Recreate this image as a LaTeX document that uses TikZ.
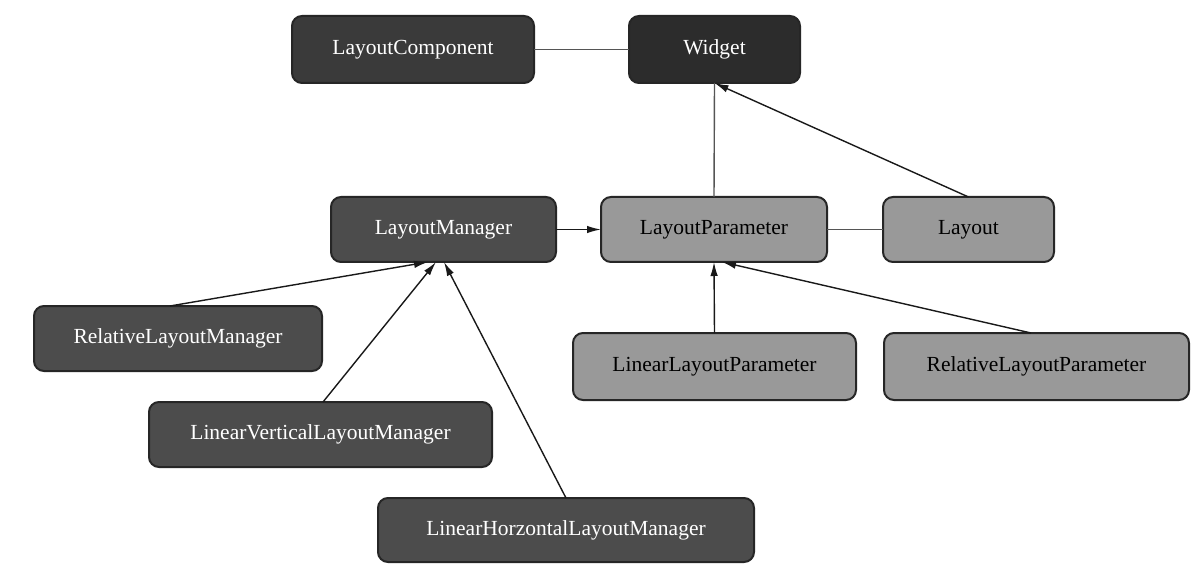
\documentclass[tikz,border=0pt]{standalone}
\usepackage{fontspec}
\setmainfont{Liberation Serif}
\usetikzlibrary{arrows.meta}
\definecolor{cdarkA}{HTML}{3A3A3A}
\definecolor{cdarkB}{HTML}{2C2C2C}
\definecolor{cmid}{HTML}{4C4C4C}
\definecolor{clight}{HTML}{999999}
\definecolor{cedge}{HTML}{262626}
\definecolor{cassoc}{HTML}{555555}
\tikzset{
  box/.style={draw=cedge, line width=2pt, rounded corners=10pt, inner sep=0pt, outer sep=0pt,
    font=\fontsize{21.5}{26}\selectfont, align=center},
  darkbox/.style={box, fill=cmid, text=white},
  darkerbox/.style={box, fill=cdarkA, text=white},
  darkestbox/.style={box, fill=cdarkB, text=white},
  lightbox/.style={box, fill=clight, text=black},
  assoc/.style={draw=cassoc, line width=1.4pt},
  inherit/.style={draw=black!90, line width=1.4pt, -{Latex[length=14pt,width=7.5pt]}},
}
\begin{document}
\begin{tikzpicture}[x=1pt,y=-1pt]
\useasboundingbox (0,0) rectangle (1200,572);
\fill[white] (0,0) rectangle (1200,572);

\node[darkerbox, minimum width=242pt, minimum height=67pt] (lc) at (413,49.5) {LayoutComponent};
\node[darkestbox, minimum width=171pt, minimum height=67pt] (w) at (714.5,49.5) {Widget};
\node[darkbox, minimum width=225pt, minimum height=65pt] (lm) at (443.5,229.5) {LayoutManager};
\node[lightbox, minimum width=226pt, minimum height=65pt] (lp) at (714,229.5) {LayoutParameter};
\node[lightbox, minimum width=171pt, minimum height=65pt] (l) at (968.5,229.5) {Layout};
\node[darkbox, minimum width=288pt, minimum height=65pt] (rlm) at (178,338.5) {RelativeLayoutManager};
\node[darkbox, minimum width=343pt, minimum height=65pt] (lvlm) at (320.5,434.5) {LinearVerticalLayoutManager};
\node[darkbox, minimum width=376pt, minimum height=64pt] (lhlm) at (566,530) {LinearHorzontalLayoutManager};
\node[lightbox, minimum width=283pt, minimum height=67pt] (llp) at (714.5,366.5) {LinearLayoutParameter};
\node[lightbox, minimum width=305pt, minimum height=67pt] (rlp) at (1036.5,366.5) {RelativeLayoutParameter};

% associations
\draw[assoc] (lc.east) -- (w.west);
\draw[assoc] (lp.north) -- (w.south);
\draw[assoc] (lp.east) -- (l.west);

% inheritance / dependency arrows
\draw[inherit] (l.north) -- (w.south);
\draw[inherit] (lm.east) -- (lp.west);
\draw[inherit] ([xshift=-8pt]rlm.north) -- ([xshift=-15.5pt]lm.south);
\draw[inherit] ([xshift=2.5pt]lvlm.north) -- ([xshift=-7.5pt]lm.south);
\draw[inherit] (lhlm.north) -- ([xshift=0.5pt]lm.south);
\draw[inherit] (llp.north) -- (lp.south);
\draw[inherit] ([xshift=-5.5pt]rlp.north) -- ([xshift=8pt]lp.south);
\end{tikzpicture}
\end{document}
